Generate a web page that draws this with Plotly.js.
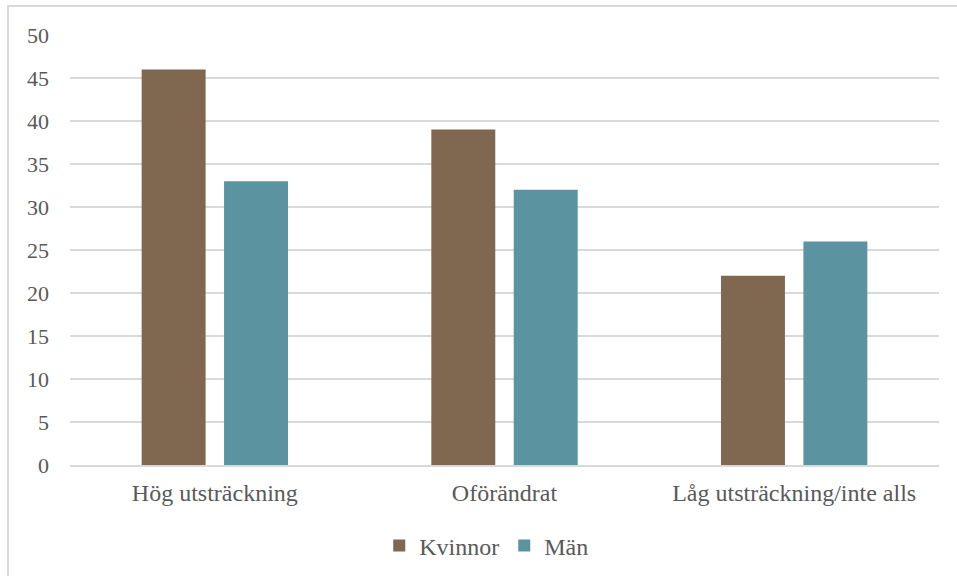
<!DOCTYPE html>
<html><head><meta charset="utf-8">
<script src="https://cdn.plot.ly/plotly-3.0.1.min.js"></script>
<style>
html,body{margin:0;padding:0;background:#fff;}
#wrap{position:relative;width:957px;height:576px;overflow:hidden;}
#frame{position:absolute;left:7px;top:5px;width:1000px;height:700px;border-left:2px solid #d9d9d9;border-top:2px solid #d9d9d9;pointer-events:none;}
#chart{position:absolute;left:0;top:0;width:957px;height:576px;}
</style></head>
<body><div id="wrap"><div id="chart"></div><div id="frame"></div></div>
<script>
const categories = ["Hög utsträckning", "Oförändrat", "Låg utsträckning/inte alls"];
const kvinnor = [46, 39, 22];
const man = [33, 32, 26];
const yTicks = [0,5,10,15,20,25,30,35,40,45,50];

const FAM = 'Liberation Serif, Times New Roman, serif';
function f(s){ return {family: FAM, color: '#595959', size: s}; }
const data = [
  {type:'bar', name:'Kvinnor', x:categories, y:kvinnor, marker:{color:'#7F6750'}},
  {type:'bar', name:'Män', x:categories, y:man, marker:{color:'#5B93A0'}}
];
const layout = {
  width:957, height:576,
  margin:{l:70, r:18, t:35, b:111, autoexpand:false},
  paper_bgcolor:'rgba(0,0,0,0)', plot_bgcolor:'#fff',
  font: f(22),
  barmode:'group', bargap:0.431, bargroupgap:0.224,
  xaxis:{automargin:false, showgrid:false, showline:true, linecolor:'#d9d9d9', linewidth:1.5, ticks:'', tickfont:f(24), zeroline:false, ticklabelstandoff:6},
  yaxis:{automargin:false, range:[0,50], tickvals:yTicks, showgrid:true, gridcolor:'#d9d9d9', gridwidth:1.3, zeroline:false, showline:false, ticks:'', tickfont:f(22), ticklabelstandoff:20},
  legend:{orientation:'h', x:0.479, xanchor:'center', y:-0.188, yanchor:'middle', font:f(24), itemwidth:30, traceorder:'normal'},
  showlegend:true
};
Plotly.newPlot('chart', data, layout, {staticPlot:true});
</script></body></html>
